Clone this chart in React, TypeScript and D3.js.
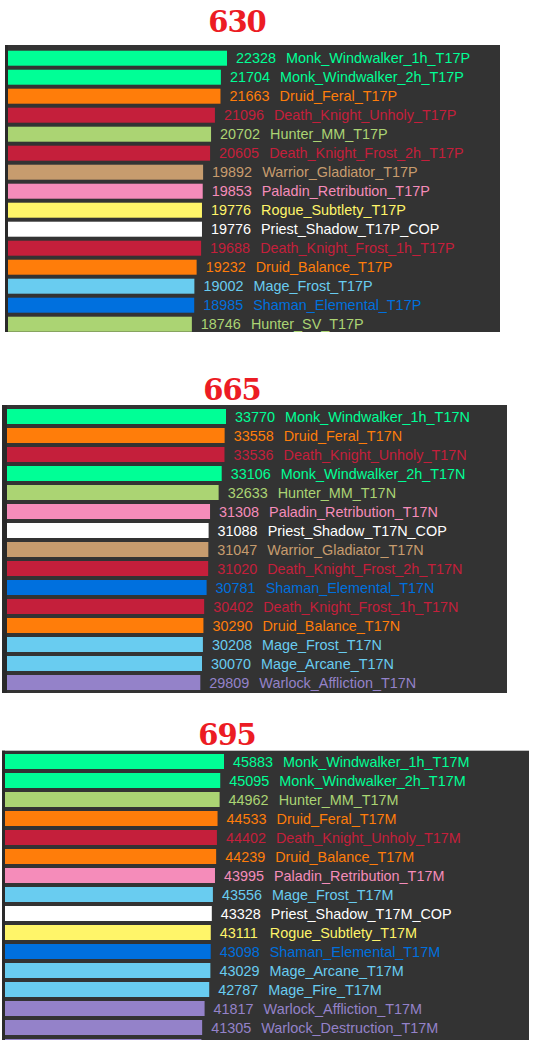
import React from "react";
import * as d3 from "d3";

const titles = ["630", "665", "695"];

const names630 = [
  "Monk_Windwalker_1h_T17P", "Monk_Windwalker_2h_T17P", "Druid_Feral_T17P", "Death_Knight_Unholy_T17P",
  "Hunter_MM_T17P", "Death_Knight_Frost_2h_T17P", "Warrior_Gladiator_T17P", "Paladin_Retribution_T17P",
  "Rogue_Subtlety_T17P", "Priest_Shadow_T17P_COP", "Death_Knight_Frost_1h_T17P", "Druid_Balance_T17P",
  "Mage_Frost_T17P", "Shaman_Elemental_T17P", "Hunter_SV_T17P",
];
const values630 = [22328, 21704, 21663, 21096, 20702, 20605, 19892, 19853, 19776, 19776, 19688, 19232, 19002, 18985, 18746];

const names665 = [
  "Monk_Windwalker_1h_T17N", "Druid_Feral_T17N", "Death_Knight_Unholy_T17N", "Monk_Windwalker_2h_T17N",
  "Hunter_MM_T17N", "Paladin_Retribution_T17N", "Priest_Shadow_T17N_COP", "Warrior_Gladiator_T17N",
  "Death_Knight_Frost_2h_T17N", "Shaman_Elemental_T17N", "Death_Knight_Frost_1h_T17N", "Druid_Balance_T17N",
  "Mage_Frost_T17N", "Mage_Arcane_T17N", "Warlock_Affliction_T17N",
];
const values665 = [33770, 33558, 33536, 33106, 32633, 31308, 31088, 31047, 31020, 30781, 30402, 30290, 30208, 30070, 29809];

const names695 = [
  "Monk_Windwalker_1h_T17M", "Monk_Windwalker_2h_T17M", "Hunter_MM_T17M", "Druid_Feral_T17M",
  "Death_Knight_Unholy_T17M", "Druid_Balance_T17M", "Paladin_Retribution_T17M", "Mage_Frost_T17M",
  "Priest_Shadow_T17M_COP", "Rogue_Subtlety_T17M", "Shaman_Elemental_T17M", "Mage_Arcane_T17M",
  "Mage_Fire_T17M", "Warlock_Affliction_T17M", "Warlock_Destruction_T17M", "Warlock_Demonology_T17M",
];
const values695 = [45883, 45095, 44962, 44533, 44402, 44239, 43995, 43556, 43328, 43111, 43098, 43029, 42787, 41817, 41305, 41150];

const classKeys = ["Monk", "Druid", "Death_Knight", "Hunter", "Warrior", "Paladin", "Rogue", "Priest", "Mage", "Shaman", "Warlock"];
const classColors = ["#00ff96", "#ff7d0a", "#c41f3b", "#abd473", "#c79c6e", "#f58cba", "#fff569", "#ffffff", "#69ccf0", "#0070de", "#9482c9"];

const colorScale = d3.scaleOrdinal<string, string>().domain(classKeys).range(classColors);
const classOf = (n: string) => classKeys.find((k) => n.startsWith(k)) || "Priest";

const W = 545;
const H = 1040;

const layouts = [
  { px: 5, py: 45, pw: 495, ph: 287, bx: 8, by: 50.7, tx: 237, ty: 32 },
  { px: 2, py: 405, pw: 505, ph: 288, bx: 7, by: 409, tx: 232, ty: 400 },
  { px: 2, py: 750.7, pw: 527, ph: 300, bx: 5, by: 754, tx: 227, ty: 745 },
];

const datasets = [
  { names: names630, values: values630 },
  { names: names665, values: values665 },
  { names: names695, values: values695 },
];

const STEP = 19;
const BAR_H = 15;
const MAX_W = 219;
const FONT = "'Liberation Sans', Arial, sans-serif";
const FS = 14.4;
const DIGIT_W = 0.556 * FS;

function Panel({ idx }: { idx: number }) {
  const L = layouts[idx];
  const { names, values } = datasets[idx];
  const n = names.length;
  const y = d3
    .scaleBand<number>()
    .domain(d3.range(n))
    .range([L.by, L.by + n * STEP - (STEP - BAR_H)])
    .paddingInner((STEP - BAR_H) / STEP)
    .paddingOuter(0);
  const x = d3.scaleLinear().domain([0, d3.max(values) as number]).range([0, MAX_W]);
  return (
    <g>
      <text
        x={L.tx}
        y={L.ty}
        textAnchor="middle"
        fill="#ec1c24"
        style={{ fontFamily: "'DejaVu Serif', serif", fontWeight: "bold", fontSize: 29, letterSpacing: -1 }}
      >
        {titles[idx]}
      </text>
      <rect x={L.px} y={L.py} width={L.pw} height={L.ph} fill="#333333" />
      <rect x={L.px} y={L.py} width={L.bx - L.px} height={L.ph} fill="#2a2a2a" />
      {names.map((nm, i) => {
        const c = colorScale(classOf(nm));
        const w = x(values[i]);
        const yy = y(i) as number;
        const tx = L.bx + w + 9;
        const base = yy + y.bandwidth() / 2 + 5;
        const showText = base + 4 < H;
        return (
          <g key={nm}>
            <rect x={L.bx} y={yy} width={w} height={y.bandwidth()} fill={c} />
            {showText && (
              <text x={tx} y={base} fill={c} style={{ fontFamily: FONT, fontSize: FS }}>
                {values[i]}
              </text>
            )}
            {showText && (
              <text x={tx + DIGIT_W * String(values[i]).length + 10} y={base} fill={c} style={{ fontFamily: FONT, fontSize: FS }}>
                {nm}
              </text>
            )}
          </g>
        );
      })}
    </g>
  );
}

export default function App() {
  return (
    <svg
      width={W}
      height={H}
      style={{ position: "absolute", left: 0, top: 0, background: "#ffffff", display: "block" }}
    >
      {[0, 1, 2].map((i) => (
        <Panel key={i} idx={i} />
      ))}
    </svg>
  );
}
